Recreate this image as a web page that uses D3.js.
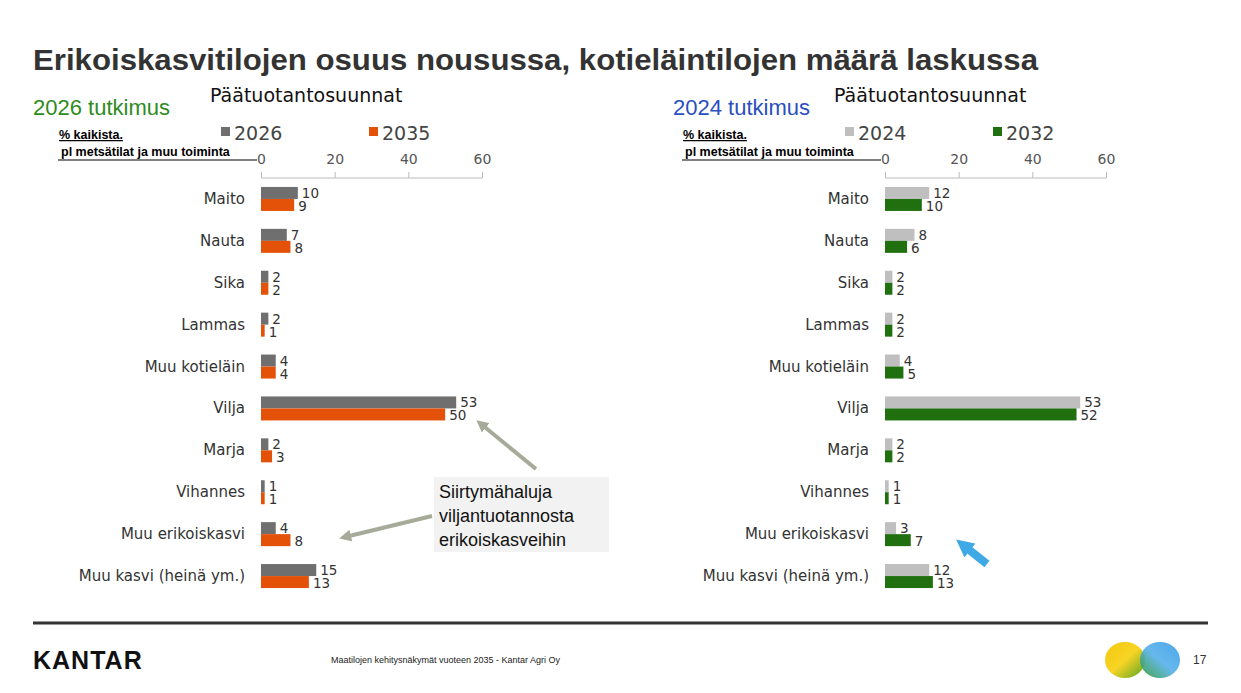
<!DOCTYPE html>
<html lang="fi">
<head>
<meta charset="UTF-8">
<title>Päätuotantosuunnat</title>
<script src="https://d3js.org/d3.v7.min.js"></script>
<style>
  body { margin: 0; background: #fff; overflow: hidden; }
  svg text { font-family: "DejaVu Sans", Verdana, sans-serif; }
  .arial { font-family: "Liberation Sans", Arial, sans-serif !important; }
</style>
</head>
<body>
<svg id="chart" width="1241" height="693"></svg>
<script>
const categories = ["Maito", "Nauta", "Sika", "Lammas", "Muu kotieläin", "Vilja", "Marja", "Vihannes", "Muu erikoiskasvi", "Muu kasvi (heinä ym.)"];
const left2026 = [10, 7, 2, 2, 4, 53, 2, 1, 4, 15];
const left2035 = [9, 8, 2, 1, 4, 50, 3, 1, 8, 13];
const right2024 = [12, 8, 2, 2, 4, 53, 2, 1, 3, 12];
const right2032 = [10, 6, 2, 2, 5, 52, 2, 1, 7, 13];
const ticks = [0, 20, 40, 60];

const svg = d3.select("#chart");

svg.append("text").attr("class", "arial").attr("x", 33).attr("y", 70)
  .attr("font-size", 29).attr("font-weight", "bold").attr("fill", "#333")
  .attr("textLength", 1005).attr("lengthAdjust", "spacingAndGlyphs")
  .text("Erikoiskasvitilojen osuus nousussa, kotieläintilojen määrä laskussa");

function panel(x0, sx, study, studyColor, names, colors, s1, s2) {
  const x = d3.scaleLinear().domain([0, 60]).range([x0, x0 + 221]);
  const y = d3.scaleBand().domain(categories).range([178, 597]);
  const g = svg.append("g");

  g.append("text").attr("class", "arial").attr("x", sx).attr("y", 115)
    .attr("font-size", 22).attr("fill", studyColor).text(study);
  g.append("text").attr("x", x0 - 51).attr("y", 102)
    .attr("font-size", 19).attr("fill", "#111").text("Päätuotantosuunnat");

  // legend
  names.forEach((n, i) => {
    const lx = x0 - 40 + i * 148;
    g.append("rect").attr("x", lx).attr("y", 127).attr("width", 9).attr("height", 9).attr("fill", colors[i]);
    g.append("text").attr("x", lx + 13).attr("y", 140).attr("font-size", 19).attr("fill", "#444").text(n);
  });

  // note
  g.append("text").attr("class", "arial").attr("x", x0 - 202).attr("y", 139)
    .attr("font-size", 12.5).attr("font-weight", "bold").attr("fill", "#000").attr("text-decoration", "underline")
    .text("% kaikista.");
  g.append("text").attr("class", "arial").attr("x", x0 - 200).attr("y", 156)
    .attr("font-size", 12.5).attr("font-weight", "bold").attr("fill", "#000").text("pl metsätilat ja muu toiminta");
  g.append("line").attr("x1", x0 - 203).attr("x2", x0 - 4).attr("y1", 160).attr("y2", 160).attr("stroke", "#000");

  // axis
  const ax = g.append("g").attr("transform", "translate(0,178)")
    .call(d3.axisTop(x).tickValues(ticks).tickSize(-6).tickSizeOuter(0));
  ax.select(".domain").attr("stroke", "#bbb").attr("d", `M${x0},0H${x0 + 221}`);
  ax.selectAll(".tick line").attr("stroke", "#bbb").attr("y2", -6);
  ax.selectAll(".tick text").attr("font-size", 14).attr("fill", "#555").attr("dy", "-0.8em")
    .style("font-family", "DejaVu Sans, Verdana, sans-serif");

  // category labels
  g.selectAll(".cat").data(categories).join("text")
    .attr("x", x0 - 16).attr("y", d => y(d) + y.bandwidth() / 2 + 5)
    .attr("text-anchor", "end").attr("font-size", 15).attr("fill", "#333").text(d => d);

  const bh = 12;
  [s1, s2].forEach((s, k) => {
    g.selectAll(".b" + k).data(s).join("rect")
      .attr("x", x0).attr("y", (d, i) => y(categories[i]) + y.bandwidth() / 2 - bh + k * bh)
      .attr("width", d => x(d) - x0).attr("height", bh).attr("fill", colors[k]);
    g.selectAll(".v" + k).data(s).join("text")
      .attr("x", d => x(d) + 4).attr("y", (d, i) => y(categories[i]) + y.bandwidth() / 2 - 1 + k * 13)
      .attr("font-size", 13.5).attr("fill", "#333").text(d => d);
  });
}

panel(261, 33, "2026 tutkimus", "#2e8b1e", ["2026", "2035"], ["#6f6f6f", "#e4520a"], left2026, left2035);
panel(885, 673, "2024 tutkimus", "#2a4fbf", ["2024", "2032"], ["#bfbfbf", "#207010"], right2024, right2032);

// callout box + arrows
svg.append("rect").attr("x", 434).attr("y", 477).attr("width", 175).attr("height", 75).attr("fill", "#f2f2f2");
["Siirtymähaluja", "viljantuotannosta", "erikoiskasveihin"].forEach((t, i) =>
  svg.append("text").attr("class", "arial").attr("x", 439).attr("y", 498 + i * 24)
    .attr("font-size", 18).attr("fill", "#111").text(t));
const defs = svg.append("defs");
defs.append("marker").attr("id", "ah").attr("viewBox", "0 0 10 10").attr("refX", 5).attr("refY", 5)
  .attr("markerWidth", 3).attr("markerHeight", 3).attr("orient", "auto")
  .append("path").attr("d", "M0,0L10,5L0,10z").attr("fill", "#a6ab99");
svg.append("line").attr("x1", 536).attr("y1", 469).attr("x2", 481).attr("y2", 424)
  .attr("stroke", "#a6ab99").attr("stroke-width", 4).attr("marker-end", "url(#ah)");
svg.append("line").attr("x1", 432).attr("y1", 516).attr("x2", 345).attr("y2", 537)
  .attr("stroke", "#a6ab99").attr("stroke-width", 4).attr("marker-end", "url(#ah)");
// blue arrow
defs.append("marker").attr("id", "bh").attr("viewBox", "0 0 10 10").attr("refX", 5).attr("refY", 5)
  .attr("markerWidth", 2.2).attr("markerHeight", 2.2).attr("orient", "auto")
  .append("path").attr("d", "M0,0L10,5L0,10z").attr("fill", "#3fa9e6");
svg.append("line").attr("x1", 987).attr("y1", 564).attr("x2", 963).attr("y2", 545)
  .attr("stroke", "#3fa9e6").attr("stroke-width", 8).attr("marker-end", "url(#bh)");

// footer
svg.append("line").attr("x1", 33).attr("x2", 1208).attr("y1", 623).attr("y2", 623).attr("stroke", "#333").attr("stroke-width", 3);
svg.append("text").attr("class", "arial").attr("x", 33).attr("y", 669).attr("font-size", 25)
  .attr("font-weight", "bold").attr("fill", "#111").attr("letter-spacing", 1).text("KANTAR");
svg.append("text").attr("class", "arial").attr("x", 331).attr("y", 663).attr("font-size", 9)
  .attr("fill", "#222").text("Maatilojen kehitysnäkymät vuoteen 2035 - Kantar Agri Oy");
svg.append("text").attr("class", "arial").attr("x", 1193).attr("y", 664).attr("font-size", 12)
  .attr("fill", "#333").text("17");
// logo: two bowls joined in the middle
const lg = defs.append("linearGradient").attr("id", "lgY").attr("x1", 0).attr("x2", 1).attr("y1", 0).attr("y2", 1);
lg.append("stop").attr("offset", "0").attr("stop-color", "#f3c400");
lg.append("stop").attr("offset", "0.5").attr("stop-color", "#f7d21a");
lg.append("stop").attr("offset", "1").attr("stop-color", "#4e9f18");
const lb = defs.append("linearGradient").attr("id", "lgB").attr("x1", 1).attr("x2", 0).attr("y1", 0).attr("y2", 1);
lb.append("stop").attr("offset", "0").attr("stop-color", "#3a9ee8");
lb.append("stop").attr("offset", "0.5").attr("stop-color", "#55b0ea");
lb.append("stop").attr("offset", "1").attr("stop-color", "#2f9a2a");
svg.append("ellipse").attr("cx", 1125).attr("cy", 660).attr("rx", 20).attr("ry", 18).attr("fill", "url(#lgY)").attr("opacity", 0.95);
svg.append("ellipse").attr("cx", 1160).attr("cy", 660).attr("rx", 20).attr("ry", 18).attr("fill", "url(#lgB)").attr("opacity", 0.9);
</script>
</body>
</html>
